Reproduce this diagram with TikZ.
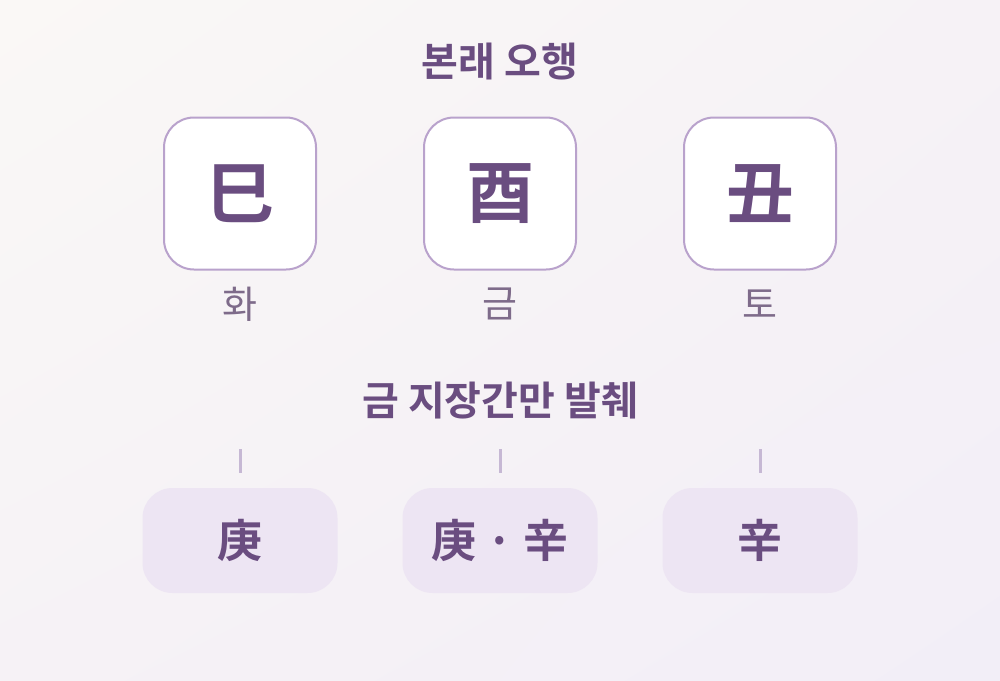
\documentclass[tikz,border=0pt]{standalone}
\usepackage{fontspec}
\newfontfamily\krfont{Noto Sans CJK KR}
\newfontfamily\krbold{Noto Sans CJK KR Bold}
\usetikzlibrary{positioning,shadings}
\definecolor{bgA}{HTML}{FAF8F6}
\definecolor{bgB}{HTML}{F6F2F6}
\definecolor{bgC}{HTML}{F2EEF7}
\definecolor{ink}{HTML}{6A4D80}
\definecolor{soft}{HTML}{7E6B8A}
\definecolor{edge}{HTML}{B9A2CC}
\definecolor{pill}{HTML}{EDE5F3}
\definecolor{tick}{HTML}{C6B8D4}
\tikzset{
  branchbox/.style={draw=edge, line width=2pt, fill=white, rounded corners=30pt,
    minimum width=152pt, minimum height=152pt, inner sep=0pt, text=ink,
    font=\krbold\fontsize{68}{68}\selectfont},
  elemlabel/.style={text=soft, font=\krfont\fontsize{38}{38}\selectfont, inner sep=0pt},
  heading/.style={text=ink, font=\krbold\fontsize{40}{40}\selectfont, inner sep=0pt},
  stembox/.style={fill=pill, rounded corners=30pt, minimum width=195pt,
    minimum height=105pt, inner sep=0pt, text=ink,
    font=\krbold\fontsize{45}{45}\selectfont},
  tickline/.style={draw=tick, line width=3pt}
}
\begin{document}
\begin{tikzpicture}[x=1pt,y=-1pt]
\useasboundingbox (0,0) rectangle (1000,680);
\shade[upper left=bgA, upper right=bgB, lower left=bgB, lower right=bgC] (0,0) rectangle (1000,680);
\node[heading] (t1) at (500,62) {본래 오행};
\node[branchbox] (b1) at (240,193.5) {巳};
\node[branchbox] (b2) at (500,193.5) {酉};
\node[branchbox] (b3) at (760,193.5) {丑};
\node[elemlabel] (l1) at (240,304) {화};
\node[elemlabel] (l2) at (500,304) {금};
\node[elemlabel] (l3) at (760,304) {토};
\node[heading] (t2) at (500,401) {금 지장간만 발췌};
\coordinate (k1a) at (240,449); \coordinate (k1b) at (240,473);
\coordinate (k2a) at (500,449); \coordinate (k2b) at (500,473);
\coordinate (k3a) at (760,449); \coordinate (k3b) at (760,473);
\draw[tickline] (k1a) -- (k1b);
\draw[tickline] (k2a) -- (k2b);
\draw[tickline] (k3a) -- (k3b);
\node[stembox] (s1) at (240,540.5) {庚};
\node[stembox] (s2) at (500,540.5) {庚 · 辛};
\node[stembox] (s3) at (760,540.5) {辛};
\end{tikzpicture}
\end{document}
